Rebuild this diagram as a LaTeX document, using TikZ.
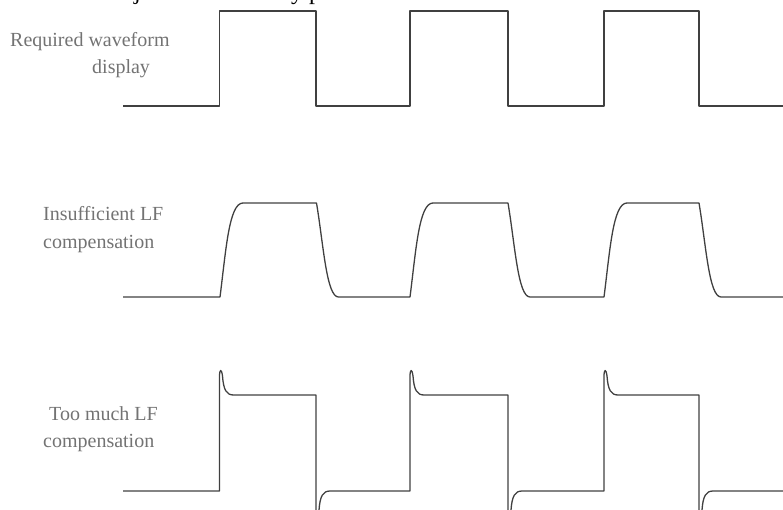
\documentclass[tikz,border=0pt]{standalone}
\usepackage{fontspec}
\setmainfont{Liberation Serif}
\begin{document}
\begin{tikzpicture}[x=1pt,y=-1pt,
  wave/.style={draw=black!75, line width=1.3pt, line join=round},
  lbl/.style={anchor=base west, inner sep=0pt, text=black!55, font=\fontsize{20}{24}\selectfont},
  frag/.style={anchor=base west, inner sep=0pt, text=black, font=\fontsize{24}{28}\selectfont}]
\useasboundingbox (0,0) rectangle (783,510);
\clip (0,0) rectangle (783,510);
% cut-off text fragments at top edge (only descenders are visible)
\node[frag] (fragj) at (134,-0.5) {j};
\node[frag] (fragyp) at (291,-0.5) {y p};
% labels
\node[lbl] (l1a) at (10,47) {Required waveform};
\node[lbl] (l1b) at (92,74) {display};
\node[lbl] (l2a) at (43,221) {Insufficient LF};
\node[lbl] (l2b) at (43,248) {compensation};
\node[lbl] (l3a) at (49,420) {Too much LF};
\node[lbl] (l3b) at (43,447) {compensation};
% required waveform
\draw[wave] (123,106)
  foreach \r/\f in {219.5/316, 410/508, 604/699} { -- (\r,106) -- (\r,11) -- (\f,11) -- (\f,106) }
  -- (783,106);
% insufficient LF compensation
\draw[wave] (123,297)
  foreach \r/\f in {220/316.5, 410/508, 604/699} {
    -- (\r,297) .. controls (\r+6,250) and (\r+9,203) .. (\r+23,203)
    -- (\f,203) .. controls (\f+7,245) and (\f+10,297) .. (\f+22,297) }
  -- (783,297);
% too much LF compensation
\draw[wave] (123,491)
  foreach \r/\f in {219.5/316, 410/508, 604/699} {
    -- (\r,491) -- (\r,377) .. controls (\r,368.5) and (\r+2,368.5) .. (\r+3,376)
       .. controls (\r+4,390) and (\r+7,395) .. (\r+14,395)
    -- (\f,395) -- (\f,509) .. controls (\f,517.5) and (\f+2,517.5) .. (\f+3,510)
       .. controls (\f+4,496) and (\f+7,491) .. (\f+14,491) }
  -- (783,491);
\end{tikzpicture}
\end{document}
